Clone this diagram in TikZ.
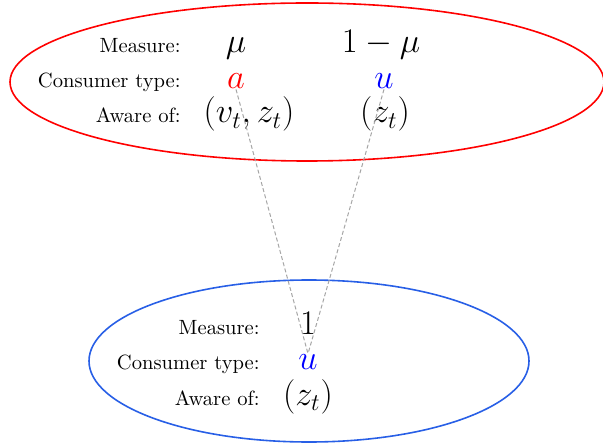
\documentclass[tikz,border=0pt]{standalone}
\usepackage{amsmath}
\definecolor{ellblue}{RGB}{40,95,230}
\tikzset{
  lbl/.style={anchor=base east, inner sep=0pt, font=\fontsize{10.3}{12}\selectfont},
  val/.style={anchor=base, inner sep=0pt, font=\LARGE},
  conn/.style={gray!70, dashed, line width=0.5pt, dash pattern=on 2pt off 1.2pt},
  ell/.style={line width=0.8pt}
}
\begin{document}
\begin{tikzpicture}[x=0.5pt, y=-0.5pt]
\useasboundingbox (0,0) rectangle (603,448);
% top group
\draw[ell, red] (307,82) ellipse [x radius=297, y radius=79];
\node[lbl] (tm) at (181,53) {Measure:};
\node[lbl] (tc) at (181,88) {Consumer type:};
\node[lbl] (ta) at (181,123) {Aware of:};
\node[val] (mu) at (236,53) {$\mu$};
\node[val] (omu) at (381,53) {$1-\mu$};
\node[val] (a) at (236,89) {$\color{red}a$};
\node[val] (u1) at (384,89) {$\color{blue}u$};
\node[val] (vz) at (249,123) {$(v_t,z_t)$};
\node[val] (z1) at (385,123) {$(z_t)$};
% bottom group
\draw[ell, ellblue] (309,361) ellipse [x radius=220, y radius=81];
\node[lbl] (bm) at (260,334) {Measure:};
\node[lbl] (bc) at (260,369) {Consumer type:};
\node[lbl] (ba) at (260,405) {Aware of:};
\node[val] (one) at (308,334) {$1$};
\node[val] (u2) at (308,369) {$\color{blue}u$};
\node[val] (z2) at (308,405) {$(z_t)$};
% connectors
\draw[conn] (a.south) -- (u2.north);
\draw[conn] (u1.south) -- (u2.north);
\end{tikzpicture}
\end{document}
